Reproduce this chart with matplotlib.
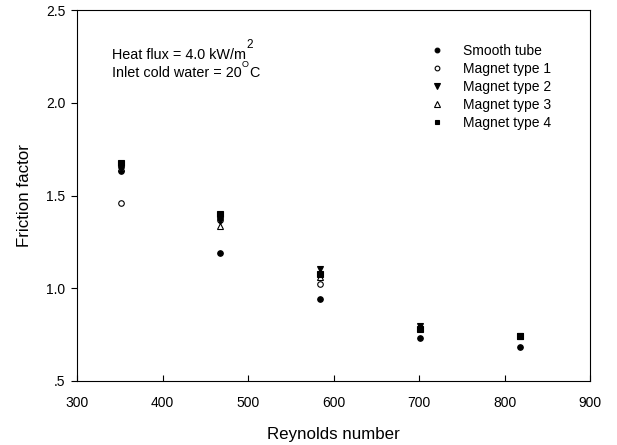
import matplotlib
matplotlib.use("Agg")
import matplotlib.pyplot as plt

plt.rcParams['font.family'] = ['Liberation Sans', 'DejaVu Sans']

reynolds = [351, 467, 584, 701, 818]
smooth_tube = [1.63, 1.19, 0.94, 0.73, 0.685]
magnet1 = [1.46, 1.37, 1.025, 0.78, 0.74]
magnet2 = [1.64, 1.36, 1.106, 0.797, 0.745]
magnet3 = [1.65, 1.336, 1.058, 0.785, 0.745]
magnet4 = [1.673, 1.399, 1.079, 0.779, 0.743]

xticks = [300, 400, 500, 600, 700, 800, 900]
yticks = [0.5, 1.0, 1.5, 2.0, 2.5]
yticklabels = ['.5', '1.0', '1.5', '2.0', '2.5']

W, H = 617, 445
fig = plt.figure(figsize=(W / 100, H / 100), dpi=100)
left, right, bottom, top = 77, 590, 381, 10
ax = fig.add_axes([left / W, (H - bottom) / H, (right - left) / W, (bottom - top) / H])

ms = 4
ax.plot(reynolds, smooth_tube, 'o', color='black', ms=ms, mew=0.8, label='Smooth tube', linestyle='none')
ax.plot(reynolds, magnet1, 'o', mfc='white', mec='black', ms=ms, mew=0.8, label='Magnet type 1', linestyle='none')
ax.plot(reynolds, magnet3, '^', mfc='white', mec='black', ms=ms + 0.5, mew=0.8, label='Magnet type 3', linestyle='none')
ax.plot(reynolds, magnet2, 'v', color='black', ms=ms + 0.5, mew=0.8, label='Magnet type 2', linestyle='none')
ax.plot(reynolds, magnet4, 's', color='black', ms=ms, mew=0.8, label='Magnet type 4', linestyle='none')

ax.set_xlim(300, 900)
ax.set_ylim(0.5, 2.5)
ax.set_xticks(xticks)
ax.set_yticks(yticks)
ax.set_yticklabels(yticklabels)
ax.tick_params(axis='x', direction='in', length=4, labelsize=10, pad=11)
ax.tick_params(axis='y', direction='out', length=4.3, labelsize=10, pad=4)
for s in ax.spines.values():
    s.set_linewidth(0.8)

ax.set_xlabel('Reynolds number', fontsize=12.2, labelpad=12)
ax.set_ylabel('Friction factor', fontsize=12.2, labelpad=10)


def px(x, y):
    return ((x - left) / (right - left), (bottom - y) / (bottom - top))


def end_px(t):
    fig.canvas.draw()
    e = t.get_window_extent(fig.canvas.get_renderer())
    return e.x1  # display px from left


fs = 10.4
t1 = ax.text(*px(112, 59), 'Heat flux = 4.0 kW/m', transform=ax.transAxes, fontsize=fs, va='baseline')
t2 = ax.text(*px(112, 77), 'Inlet cold water = 20', transform=ax.transAxes, fontsize=fs, va='baseline')
x_end1 = end_px(t1)
ax.text(*px(x_end1 + 0.5, 48), '2', transform=ax.transAxes, fontsize=8.5, va='baseline')
x_end2 = end_px(t2)
to = ax.text(*px(x_end2 + 0.3, 67), 'O', transform=ax.transAxes, fontsize=6.5, va='baseline')
x_end3 = end_px(to)
ax.text(*px(x_end3 + 0.3, 77), 'C', transform=ax.transAxes, fontsize=fs, va='baseline')

h, l = ax.get_legend_handles_labels()
order = [0, 1, 3, 2, 4]
leg = ax.legend([h[i] for i in order], [l[i] for i in order], loc='upper left',
                bbox_to_anchor=px(427, 44), frameon=False, fontsize=10,
                handletextpad=1.2, labelspacing=0.28, handlelength=1.4, markerscale=0.85,
                borderpad=0, borderaxespad=0)

fig.savefig('out.png', dpi=100)
